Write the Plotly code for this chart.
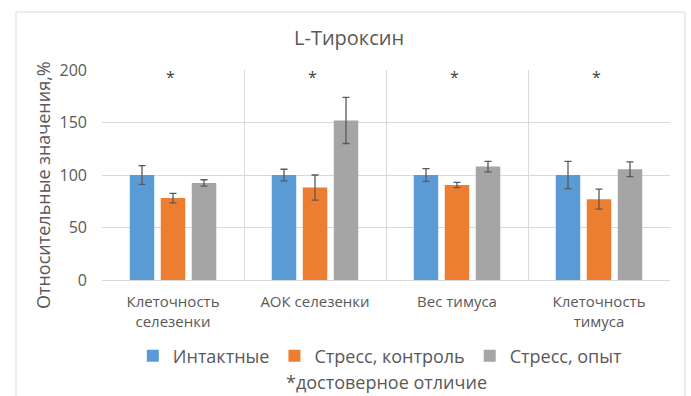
import plotly.graph_objects as go

# Categories and tick labels
categories = ["Клеточность селезенки", "АОК селезенки", "Вес тимуса", "Клеточность тимуса"]
tick_labels = ["Клеточность<br>селезенки", "АОК селезенки", "Вес тимуса", "Клеточность<br>тимуса"]

# Relative values, % (mean) and error (±)
intact = [100, 100, 100, 100]
intact_err = [9, 5.5, 6, 13]
stress_ctrl = [78, 88, 90.5, 77]
stress_ctrl_err = [4.5, 12, 2.5, 9.5]
stress_exp = [92.5, 152, 108, 105.5]
stress_exp_err = [3, 22, 5, 7]

# Significance marks
sig_marks = ["*", "*", "*", "*"]
sig_level = 193

series_names = ["Интактные", "Стресс, контроль", "Стресс, опыт"]
colors = ["#5B9BD5", "#ED7D31", "#A5A5A5"]

FONT = "Open Sans"
TEXT = "#595959"
GRID = "#D9D9D9"

fig = go.Figure()
for name, vals, errs, col in zip(series_names,
                                 [intact, stress_ctrl, stress_exp],
                                 [intact_err, stress_ctrl_err, stress_exp_err],
                                 colors):
    fig.add_trace(go.Bar(
        x=categories, y=vals, name=name,
        marker=dict(color=col, line=dict(width=0)),
        error_y=dict(type="data", array=errs, visible=True,
                     color="#595959", thickness=1.3, width=3.5),
    ))

for cat, mark in zip(categories, sig_marks):
    fig.add_annotation(x=cat, y=sig_level, text=mark, showarrow=False,
                       xshift=-3, font=dict(family=FONT, size=16, color="#404040"))

# y-axis title
fig.add_annotation(xref="paper", yref="paper", x=-0.104, y=0.452,
                   xanchor="center", yanchor="middle",
                   text="Относительные значения,%", textangle=-90, showarrow=False,
                   font=dict(family=FONT, size=18, color=TEXT))

# footnote, at the very bottom of the frame
fig.add_annotation(xref="paper", yref="paper", x=0.5, y=-0.551,
                   text="*достоверное отличие", showarrow=False,
                   xanchor="center", yanchor="bottom",
                   font=dict(family=FONT, size=18, color=TEXT))

# chart frame
fig.add_shape(type="rect", xref="paper", yref="paper",
              x0=-0.1514, x1=1.0264, y0=-0.7, y1=1.276,
              line=dict(color=GRID, width=1), layer="below")

fig.update_layout(
    width=691, height=396,
    margin=dict(l=102, r=21, t=70, b=116),
    paper_bgcolor="white", plot_bgcolor="white",
    barmode="group", bargap=0.345, bargroupgap=0.21,
    title=dict(text="L-Тироксин", x=0.435, xref="paper", xanchor="center",
               y=1 - 38 / 396, yref="container", yanchor="middle",
               font=dict(family=FONT, size=20, color=TEXT)),
    showlegend=True,
    legend=dict(orientation="h", x=0.49, xanchor="center", y=-0.362, yanchor="middle",
                font=dict(family=FONT, size=18, color=TEXT), bgcolor="rgba(0,0,0,0)",
                itemwidth=30),
    font=dict(family=FONT, color=TEXT),
)

fig.update_xaxes(
    tickmode="array", tickvals=categories, ticktext=tick_labels,
    tickson="boundaries", ticks="", showgrid=True, gridcolor=GRID, gridwidth=1,
    showline=True, linecolor=GRID, linewidth=1, ticklabelstandoff=8,
    tickfont=dict(family=FONT, size=15, color=TEXT),
    mirror=False, zeroline=False,
)
fig.update_yaxes(
    range=[0, 200], tickvals=[0, 50, 100, 150, 200],
    showgrid=True, gridcolor=GRID, gridwidth=1, zeroline=False,
    showline=False, ticks="", ticklabelstandoff=14,
    tickfont=dict(family=FONT, size=16, color=TEXT),
)

fig.write_html("out.html")
